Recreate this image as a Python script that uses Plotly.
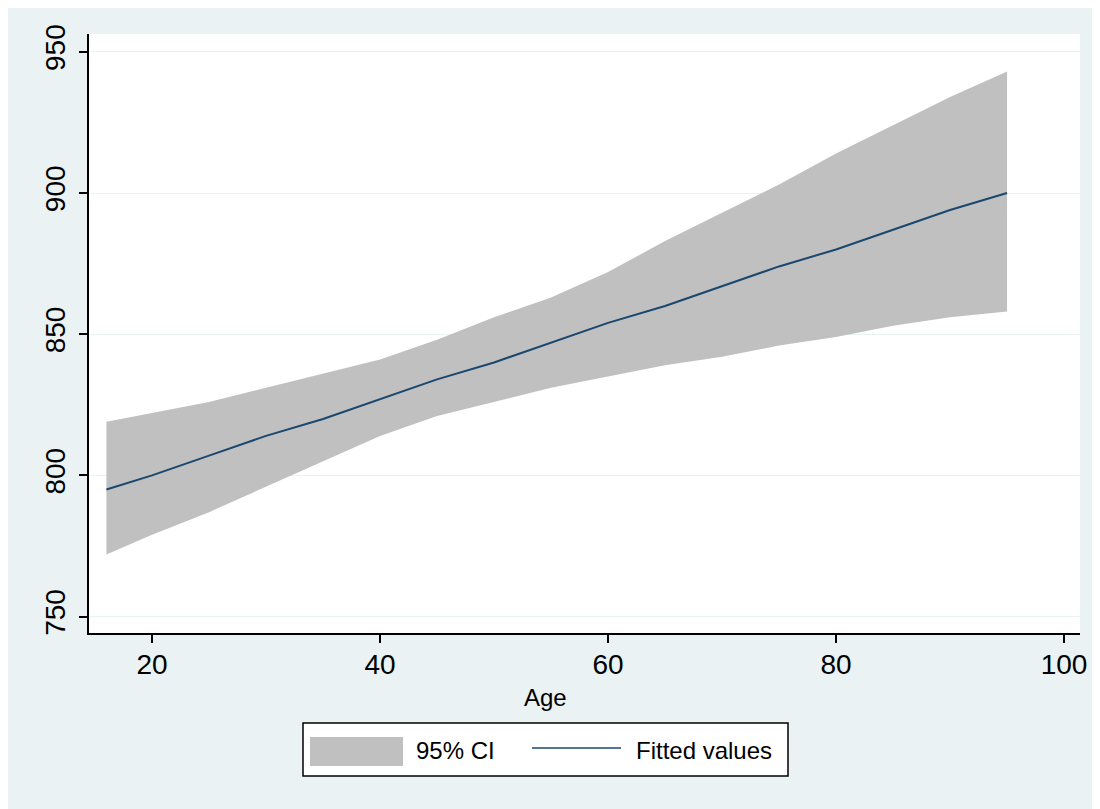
import plotly.graph_objects as go

# Data
age = [16, 20, 25, 30, 35, 40, 45, 50, 55, 60, 65, 70, 75, 80, 85, 90, 95]
ci_upper = [819, 822, 826, 831, 836, 841, 848, 856, 863, 872, 883, 893, 903, 914, 924, 934, 943]
ci_lower = [772, 779, 787, 796, 805, 814, 821, 826, 831, 835, 839, 842, 846, 849, 853, 856, 858]
fitted = [795, 800, 807, 814, 820, 827, 834, 840, 847, 854, 860, 867, 874, 880, 887, 894, 900]

x_ticks = [20, 40, 60, 80, 100]
y_ticks = [750, 800, 850, 900, 950]

BG = "#EAF2F3"
BAND = "#C0C0C0"
LINE = "#1A476F"
FONT = "Liberation Sans, Arial, sans-serif"

fig = go.Figure()
fig.add_trace(go.Scatter(x=age, y=ci_lower, mode="lines", line=dict(width=0, color=BAND),
                         showlegend=False, hoverinfo="skip"))
fig.add_trace(go.Scatter(x=age, y=ci_upper, mode="lines", line=dict(width=0, color=BAND),
                         fill="tonexty", fillcolor=BAND, name="95% CI", showlegend=False))
fig.add_trace(go.Scatter(x=age, y=fitted, mode="lines", line=dict(width=2, color=LINE),
                         name="Fitted values", showlegend=False))

OFF = 8  # page offset of the figure (body margin)
W, H = 1100, 809
L, T = 89 - OFF, 34 - OFF
R = W - (1080 - OFF)
B = H - (633 - OFF)
pw = W - L - R
ph = H - T - B

def px(page_x):
    return (page_x - OFF - L) / pw

def py(page_y):
    return (H - B - (page_y - OFF)) / ph

fig.update_layout(
    width=W, height=H,
    margin=dict(l=L, r=R, t=T, b=B, pad=0),
    paper_bgcolor=BG, plot_bgcolor="white",
    font=dict(family=FONT, color="black"),
    showlegend=False,
)
fig.update_xaxes(
    range=[14.47, 101.4], tickvals=x_ticks, ticktext=[str(v) for v in x_ticks],
    showgrid=False, zeroline=False,
    showline=True, linecolor="black", linewidth=2,
    ticks="outside", ticklen=8, tickwidth=1.5, tickcolor="black",
    tickfont=dict(size=28, family=FONT, color="black"),
    ticklabelstandoff=-3,
)
fig.update_yaxes(
    range=[744.2, 956.3], tickvals=y_ticks, ticktext=[str(v) for v in y_ticks],
    showgrid=True, gridcolor=BG, gridwidth=1, zeroline=False,
    showline=True, linecolor="black", linewidth=2,
    ticks="outside", ticklen=8, tickwidth=1.5, tickcolor="black",
    tickangle=-90,
    tickfont=dict(size=28, family=FONT, color="black"),
    ticklabelstandoff=3,
)

# Axis title
fig.add_annotation(text="Age", x=px(545), y=py(697), xref="paper", yref="paper",
                   showarrow=False, font=dict(size=24, family=FONT, color="black"),
                   xanchor="center", yanchor="middle")

# Manual legend
fig.add_shape(type="rect", xref="paper", yref="paper",
              x0=px(303), x1=px(788), y0=py(776), y1=py(723),
              line=dict(color="black", width=1.5), fillcolor="white", layer="above")
fig.add_shape(type="rect", xref="paper", yref="paper",
              x0=px(310), x1=px(403), y0=py(766), y1=py(737),
              line=dict(width=0), fillcolor=BAND, layer="above")
fig.add_shape(type="line", xref="paper", yref="paper",
              x0=px(532), x1=px(621), y0=py(748), y1=py(748),
              line=dict(color=LINE, width=1.5), layer="above")
fig.add_annotation(text="95% CI", x=px(414), y=py(750), xref="paper", yref="paper",
                   showarrow=False, xanchor="left", yanchor="middle",
                   font=dict(size=24, family=FONT, color="black"))
fig.add_annotation(text="Fitted values", x=px(634), y=py(750), xref="paper", yref="paper",
                   showarrow=False, xanchor="left", yanchor="middle",
                   font=dict(size=24, family=FONT, color="black"))

fig.write_html("out.html")
